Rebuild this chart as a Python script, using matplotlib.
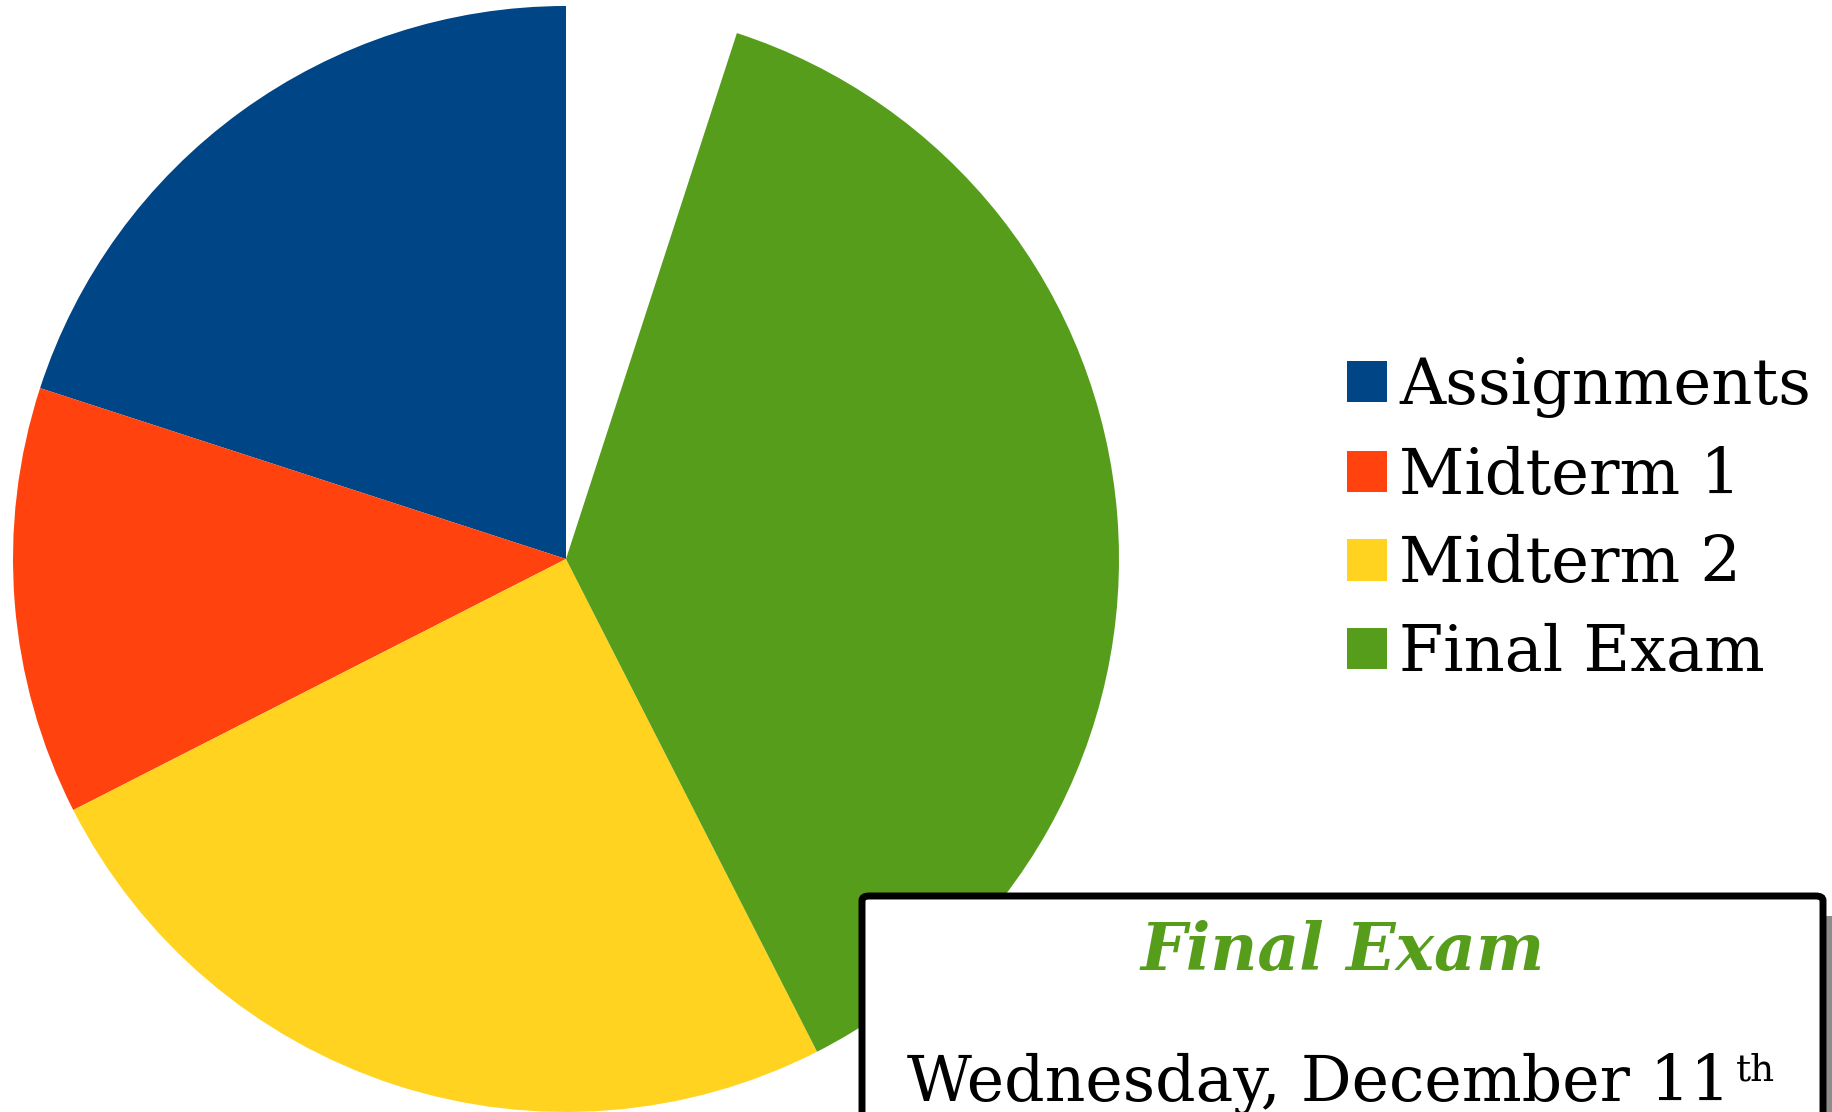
import matplotlib
matplotlib.use("Agg")
import matplotlib.pyplot as plt
from matplotlib.patches import FancyBboxPatch, Rectangle
from matplotlib.text import Annotation

plt.rcParams['font.family'] = 'DejaVu Serif'

# grade weights (sum < 1, the rest is left empty)
labels = ['Assignments', 'Midterm 1', 'Midterm 2', 'Final Exam']
weights = [0.20, 0.125, 0.25, 0.375]
colors = ['#004586', '#ff420e', '#ffd320', '#579d1c']

W, H = 1833, 1112
fig = plt.figure(figsize=(W / 100, H / 100), dpi=100)

# pie: centre (566, 559) px from top-left, radius 553 px
r = 553
cx, cy = 566, H - 559
ax = fig.add_axes([(cx - r) / W, (cy - r) / H, 2 * r / W, 2 * r / H])
wedges, _ = ax.pie(weights, colors=colors, startangle=90, counterclock=True,
                   normalize=False, wedgeprops=dict(linewidth=0))
ax.set_xlim(-1, 1)
ax.set_ylim(-1, 1)
ax.set_aspect('auto')
ax.axis('off')

fig.legend(wedges, labels, loc='center left', bbox_to_anchor=(1347 / W, 1 - 520 / H),
           frameon=False, fontsize=46, handlelength=0.62, handleheight=0.62,
           handletextpad=0.2, labelspacing=0.43, borderpad=0, borderaxespad=0)

# info box
x0, x1 = 862, 1823
y0, y1 = -40, H - 896
shadow = Rectangle(((x0 + 12) / W, (y0 - 20) / H), (x1 - x0) / W, (y1 - y0) / H,
                   transform=fig.transFigure, facecolor='#8c8c8c', edgecolor='none')
fig.patches.append(shadow)
box = FancyBboxPatch((x0 / W, y0 / H), (x1 - x0) / W, (y1 - y0) / H,
                     boxstyle='round,pad=0,rounding_size=0.004',
                     transform=fig.transFigure, facecolor='white',
                     edgecolor='black', linewidth=5)
fig.patches.append(box)

xc = (x0 + x1) / 2 / W
fig.text(xc, 1 - 970 / H, 'Final Exam', ha='center', va='baseline',
         fontsize=46.5, fontweight='bold', fontstyle='italic', color='#579d1c')
date = fig.text(907 / W, 1 - 1101 / H, 'Wednesday, December 11',
                ha='left', va='baseline', fontsize=45.5, color='black')
sup = Annotation('th', xy=(1, 1), xycoords=date, xytext=(5, 0), textcoords='offset pixels',
                 ha='left', va='top', fontsize=27, color='black', annotation_clip=False)
sup.set_zorder(5)
fig.add_artist(sup)

fig.savefig('out.png', dpi=100)
